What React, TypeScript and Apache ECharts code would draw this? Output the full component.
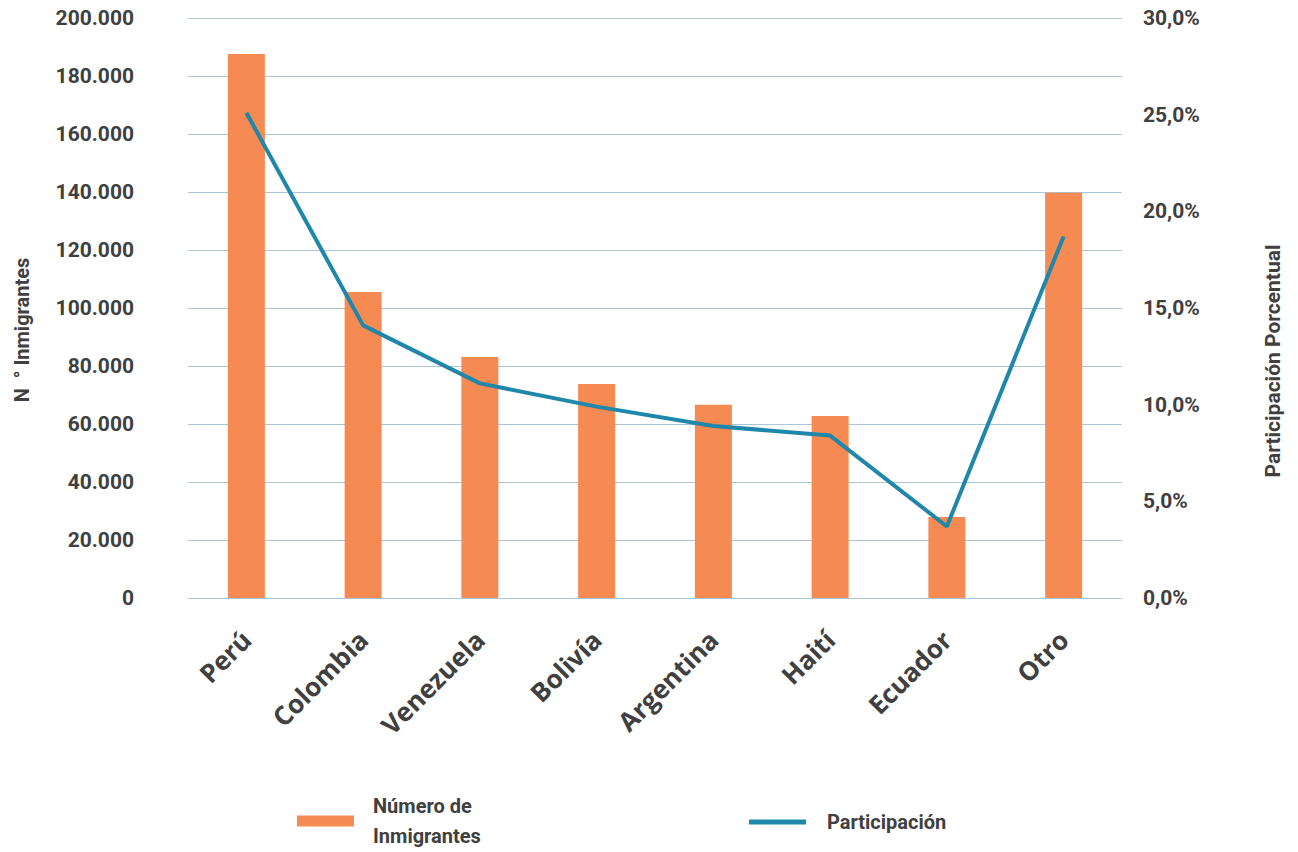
import React, { useEffect, useRef } from "react";
import * as echarts from "echarts";

const categories = ["Perú", "Colombia", "Venezuela", "Bolivía", "Argentina", "Haití", "Ecuador", "Otro"];
const immigrants = [187600, 105500, 83100, 73800, 66600, 62800, 27900, 139700];
const participation = [25.1, 14.1, 11.1, 9.9, 8.9, 8.4, 3.7, 18.7];
const leftTicks = { min: 0, max: 200000, interval: 20000 };
const rightTicks = { min: 0, max: 30, interval: 5 };

const TEXT = "#404040";
const GRID = "#A9C5D6";
const BAR = "#F58A52";
const LINE = "#1F87A9";
const FONT = "Roboto";

function thousands(v: number): string {
  return String(Math.round(v)).replace(/\B(?=(\d{3})+(?!\d))/g, ".");
}

export default function App() {
  const ref = useRef<HTMLDivElement>(null);

  useEffect(() => {
    if (!ref.current) return;
    const chart = echarts.init(ref.current, null, { renderer: "svg" });
    chart.setOption({
      animation: false,
      backgroundColor: "#ffffff",
      grid: { left: 188, right: 176, top: 18, bottom: 254 },
      xAxis: {
        type: "category",
        data: categories,
        axisLine: { lineStyle: { color: GRID, width: 1 } },
        axisTick: { show: false },
        axisLabel: {
          rotate: 45,
          margin: 37,
          color: TEXT,
          fontFamily: "Open Sans",
          fontWeight: "bold",
          fontSize: 26,
          interval: 0,
        },
      },
      yAxis: [
        {
          type: "value",
          ...leftTicks,
          axisLine: { show: false },
          axisTick: { show: false },
          splitLine: { lineStyle: { color: GRID, width: 1 } },
          axisLabel: {
            margin: 54,
            color: TEXT,
            fontFamily: FONT,
            fontWeight: "bold",
            fontSize: 21,
            formatter: (v: number) => thousands(v),
          },
        },
        {
          type: "value",
          ...rightTicks,
          axisLine: { show: false },
          axisTick: { show: false },
          splitLine: { show: false },
          axisLabel: {
            margin: 21,
            color: TEXT,
            fontFamily: FONT,
            fontWeight: "bold",
            fontSize: 21,
            formatter: (v: number) => v.toFixed(1).replace(".", ",") + "%",
          },
        },
      ],
      legend: [
        {
          data: [{ name: "Número de\nInmigrantes", icon: "rect" }],
          left: 297,
          top: 791,
          padding: 0,
          itemWidth: 57,
          itemHeight: 11,
          textStyle: { color: TEXT, fontFamily: FONT, fontWeight: "bold", fontSize: 20, lineHeight: 30, padding: [0, 0, 0, 14] },
        },
        {
          data: [{ name: "Participación", icon: "rect", itemStyle: { color: LINE } }],
          left: 749,
          top: 812,
          padding: 0,
          itemWidth: 57,
          itemHeight: 5,
          textStyle: { color: TEXT, fontFamily: FONT, fontWeight: "bold", fontSize: 20, padding: [0, 0, 0, 16] },
        },
      ],
      graphic: [
        {
          type: "text",
          x: 22,
          y: 330,
          rotation: Math.PI / 2,
          style: {
            text: "N  ° Inmigrantes",
            fill: TEXT,
            font: `bold 20px ${FONT}`,
            align: "center",
            verticalAlign: "middle",
          },
        },
        {
          type: "text",
          x: 1273,
          y: 361,
          rotation: Math.PI / 2,
          style: {
            text: "Participación Porcentual",
            fill: TEXT,
            font: `bold 21px ${FONT}`,
            align: "center",
            verticalAlign: "middle",
          },
        },
      ],
      series: [
        {
          name: "Número de\nInmigrantes",
          type: "bar",
          data: immigrants,
          yAxisIndex: 0,
          barWidth: 37,
          itemStyle: { color: BAR },
        },
        {
          name: "Participación",
          type: "line",
          data: participation,
          yAxisIndex: 1,
          showSymbol: false,
          symbol: "none",
          lineStyle: { color: LINE, width: 4 },
          itemStyle: { color: LINE },
        },
      ],
    });
    return () => chart.dispose();
  }, []);

  return <div ref={ref} style={{ width: 1298, height: 852, position: "absolute", left: 0, top: 0 }} />;
}
